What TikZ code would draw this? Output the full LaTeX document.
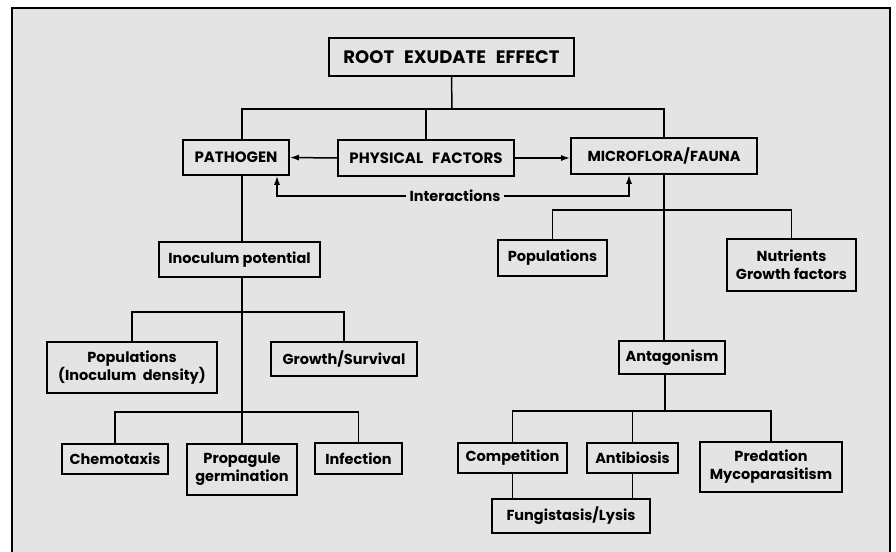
\documentclass[tikz,border=0pt]{standalone}
\usepackage{fontspec}
\setmainfont{Poppins}
\usetikzlibrary{arrows.meta}
\definecolor{bg}{RGB}{228,228,228}
\begin{document}
\begin{tikzpicture}[x=1pt,y=-1pt,
  box/.style={draw,line width=1.6pt,inner sep=0pt,align=center,
    font=\fontsize{14.5}{18}\selectfont\bfseries},
  capbox/.style={box,font=\fontsize{15}{18}\selectfont\bfseries},
  ln/.style={line width=1.5pt},
  ar/.style={ln,-{Latex[length=9pt,width=6pt]}}]
\useasboundingbox (0,0) rectangle (896,551);
\fill[bg] (12,8) rectangle (890,560);
\draw[line width=1.6pt] (12,560) -- (12,8) -- (890,8) -- (890,560);
% nodes
\node[box,minimum width=245pt,minimum height=38pt,font=\fontsize{18}{20}\selectfont\bfseries] (root) at (451.5,57) {ROOT\hspace{0.55em}EXUDATE\hspace{0.55em}EFFECT};
\node[capbox,minimum width=106pt,minimum height=35pt] (path) at (236,157.5) {PATHOGEN};
\node[capbox,minimum width=176pt,minimum height=36pt] (phys) at (426,158) {PHYSICAL\hspace{0.6em}FACTORS};
\node[box,minimum width=186pt,minimum height=36pt] (micro) at (664,156) {MICROFLORA/FAUNA};
\node[font=\fontsize{14.5}{18}\selectfont\bfseries,inner sep=3pt] (inter) at (455,196) {Interactions};
\node[box,minimum width=161pt,minimum height=35pt] (inoc) at (239.5,259.5) {Inoculum potential};
\node[box,minimum width=170pt,minimum height=51pt] (popL) at (132,367.5) {Populations\\(Inoculum\hspace{0.45em}density)};
\node[box,minimum width=146pt,minimum height=34pt] (growth) at (344,359) {Growth/Survival};
\node[box,minimum width=106pt,minimum height=30pt] (chemo) at (115,459) {Chemotaxis};
\node[box,minimum width=110pt,minimum height=51pt] (prop) at (242,469.5) {Propagule\\germination};
\node[box,minimum width=87pt,minimum height=31pt] (infect) at (358.5,458.5) {Infection};
\node[box,minimum width=109pt,minimum height=36pt] (popR) at (552.5,258) {Populations};
\node[box,minimum width=129pt,minimum height=52pt] (nutr) at (791.5,265) {Nutrients\\Growth factors};
\node[box,minimum width=106pt,minimum height=33pt] (antag) at (672,357.5) {Antagonism};
\node[box,minimum width=109pt,minimum height=30pt] (compet) at (512.5,458) {Competition};
\node[box,minimum width=91pt,minimum height=30pt] (antib) at (632.5,458) {Antibiosis};
\node[box,minimum width=142pt,minimum height=50pt] (pred) at (771,467) {Predation\\Mycoparasitism};
\node[box,minimum width=158pt,minimum height=34pt] (fung) at (571,516) {Fungistasis/Lysis};
% junctions
\coordinate (j1) at (452,109);
\coordinate (h1) at (242,312);
\coordinate (h2) at (242,412);
\coordinate (h3) at (664,210);
\coordinate (h4) at (665,411);
% connectors
\draw[ln] (root.south) -- (j1);
\draw[ln] (path.north -| prop.north) |- (j1) -| (micro.north);
\draw[ln] (phys.north) -- (phys.north |- j1);
\draw[ar] (phys.west) -- (path.east);
\draw[ar] (phys.east) -- (phys.east -| micro.west);
\draw[ar] (inter.west) -| ([xshift=41pt]path.south);
\draw[ar] (inter.east) -| ([xshift=-35pt]micro.south);
\draw[ln] (path.south -| prop.north) -- (inoc.north -| prop.north);
\draw[ln] (inoc.south -| prop.north) -- (prop.north);
\draw[ln] (popL.north) |- (h1) -| (growth.north);
\draw[ln] (chemo.north) |- (h2) -| (infect.north);
\draw[ln] (micro.south) -- (micro.south |- antag.north);
\draw[ln] (popR.north) |- (h3) -| (nutr.north);
\draw[ln] (antag.south -| h4) -- (h4);
\draw[ln] (compet.north) |- (h4) -| (pred.north);
\draw[ln] (antib.north) -- (antib.north |- h4);
\draw[ln] (compet.south) -- (compet.south |- fung.north);
\draw[ln] (antib.south) -- (antib.south |- fung.north);
\end{tikzpicture}
\end{document}
